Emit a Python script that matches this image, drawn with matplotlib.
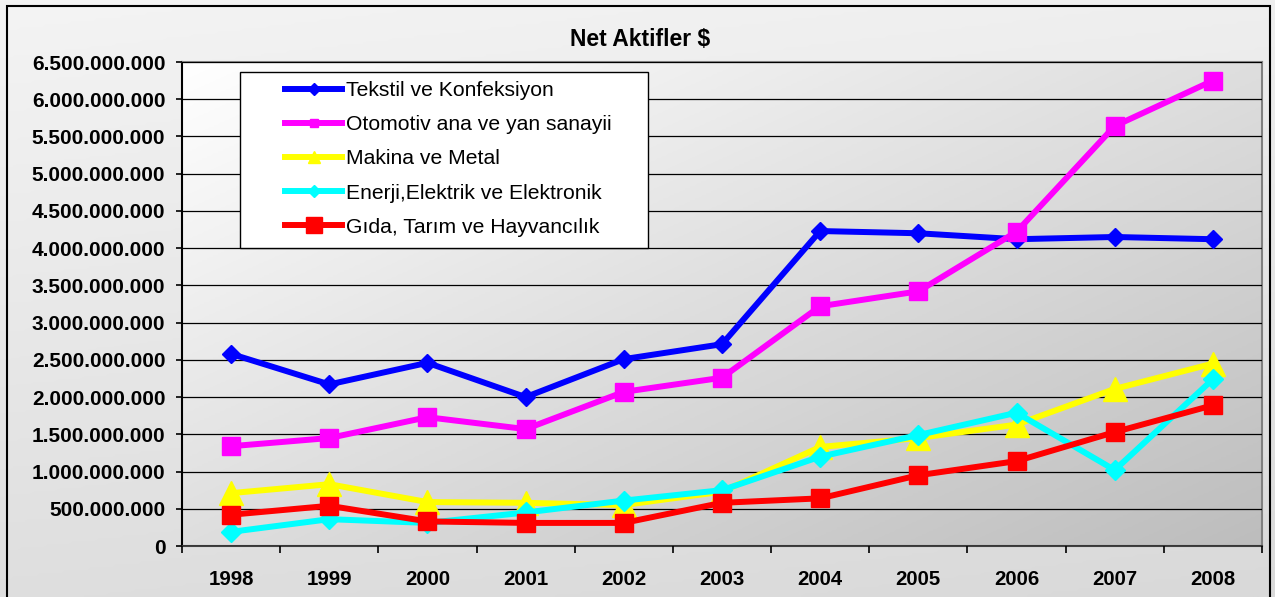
import numpy as np
import matplotlib
matplotlib.use("Agg")
from matplotlib import pyplot as plt
from matplotlib.colors import LinearSegmentedColormap
from matplotlib.patches import Rectangle
from matplotlib.ticker import FuncFormatter, MultipleLocator

plt.rcParams['font.family'] = ['Liberation Sans', 'DejaVu Sans']

years = ["1998", "1999", "2000", "2001", "2002", "2003", "2004", "2005", "2006", "2007", "2008"]
tekstil = [2.58e9, 2.17e9, 2.46e9, 2.00e9, 2.51e9, 2.71e9, 4.23e9, 4.20e9, 4.12e9, 4.15e9, 4.12e9]
otomotiv = [1.34e9, 1.45e9, 1.73e9, 1.57e9, 2.07e9, 2.26e9, 3.22e9, 3.42e9, 4.22e9, 5.64e9, 6.25e9]
makina = [0.71e9, 0.83e9, 0.59e9, 0.58e9, 0.55e9, 0.73e9, 1.33e9, 1.45e9, 1.63e9, 2.11e9, 2.45e9]
enerji = [0.19e9, 0.36e9, 0.31e9, 0.45e9, 0.61e9, 0.75e9, 1.20e9, 1.49e9, 1.79e9, 1.02e9, 2.24e9]
gida = [0.42e9, 0.54e9, 0.33e9, 0.31e9, 0.31e9, 0.58e9, 0.64e9, 0.95e9, 1.14e9, 1.53e9, 1.89e9]

W, H = 1275, 597
fig = plt.figure(figsize=(W / 100, H / 100), dpi=100)

# figure background gradient + border
bg = fig.add_axes([0, 0, 1, 1], zorder=-10)
gy, gx = np.mgrid[0:1:200j, 0:1:200j]
bg.imshow(0.8 * gy + 0.2 * gx, extent=[0, 1, 0, 1], aspect='auto', origin='upper',
          cmap=LinearSegmentedColormap.from_list('fbg', ['#f4f4f4', '#d9d9d9']))
bg.set_xlim(0, 1); bg.set_ylim(0, 1)
bg.axis('off')
bg.add_patch(Rectangle((7 / W, -0.1), (1270 - 7) / W, 1 - 6 / H + 0.1, fill=False,
                       edgecolor='black', linewidth=1.5))

ax = fig.add_axes([182 / W, 1 - 546 / H, (1262 - 182) / W, (546 - 62) / H])
ax.set_facecolor('none')
ax.imshow(gx * 0.5 + gy * 0.5, extent=[0, 1, 0, 1], aspect='auto', origin='upper',
          transform=ax.transAxes, zorder=0,
          cmap=LinearSegmentedColormap.from_list('pbg', ['#ffffff', '#bdbdbd']))

x = np.arange(len(years))
series = [
    ("Tekstil ve Konfeksiyon", tekstil, '#0000ff', 'D', 9, 6),
    ("Otomotiv ana ve yan sanayii", otomotiv, '#ff00ff', 's', 13, 6),
    ("Makina ve Metal", makina, '#ffff00', '^', 17, 8),
    ("Enerji,Elektrik ve Elektronik", enerji, '#00ffff', 'D', 10, 6),
    ("Gıda, Tarım ve Hayvancılık", gida, '#ff0000', 's', 13, 12),
]
for label, vals, col, mk, ms, lms in series:
    ax.plot(x, vals, color=col, marker=mk, markersize=ms, linewidth=4.3,
            markeredgecolor=col, label=label, zorder=3)

ax.set_xlim(-0.5, len(years) - 0.5)
ax.set_ylim(0, 6.5e9)
ax.yaxis.set_major_locator(MultipleLocator(5e8))
ax.yaxis.set_major_formatter(FuncFormatter(lambda v, p: f"{int(round(v)):,}".replace(",", ".")))
ax.grid(axis='y', color='black', linewidth=0.9, zorder=1)
ax.set_axisbelow(False)
ax.set_xticks(x)
ax.set_xticklabels(years)
ax.set_xticks(np.arange(-0.5, len(years), 1), minor=True)
ax.tick_params(axis='x', which='major', length=0, pad=17, labelsize=14.7)
ax.tick_params(axis='x', which='minor', length=5, width=1.2, direction='out')
ax.tick_params(axis='y', length=4, width=1.2, direction='out', pad=8, labelsize=15)
for lab in ax.get_xticklabels() + ax.get_yticklabels():
    lab.set_fontweight('bold')
ax.spines['left'].set_color('black')
ax.spines['bottom'].set_color('#404040')
ax.spines['top'].set_color('#808080')
ax.spines['right'].set_color('#808080')
for sp in ax.spines.values():
    sp.set_linewidth(1.5)

# legend frame and legend
ax.add_patch(Rectangle((240 / W, 1 - 248 / H), (648 - 240) / W, (248 - 72) / H,
                       transform=fig.transFigure, facecolor='white', edgecolor='black',
                       linewidth=1, zorder=6, clip_on=False))
leg = ax.legend(loc='upper left', bbox_to_anchor=(285 / W, 1 - 81 / H),
                bbox_transform=fig.transFigure, frameon=False, borderaxespad=0,
                borderpad=0, fontsize=15.2, handlelength=2.7, handletextpad=0.2,
                labelspacing=0.72)
leg.set_zorder(7)
for h, s in zip(leg.legend_handles, series):
    h.set_markersize(s[5])

fig.text(640 / W, 1 - 40 / H, "Net Aktifler $", ha='center', va='center',
         fontsize=16.5, fontweight='bold')

fig.savefig("out.png", dpi=100)
